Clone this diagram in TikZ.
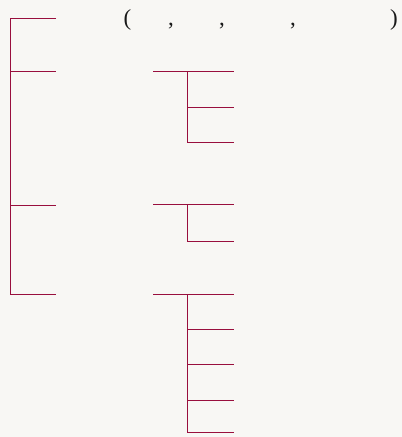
\documentclass[tikz,border=0pt]{standalone}
\usepackage{fontspec}
\setmainfont{Liberation Serif}
\begin{document}
\begin{tikzpicture}[x=1pt,y=-1pt,
  branch/.style={draw=linecol, line width=1pt},
  punct/.style={inner sep=0pt, anchor=base, font=\fontsize{23}{25}\selectfont, text=black!90}]
\definecolor{linecol}{HTML}{990F3D}
\definecolor{paper}{HTML}{F8F7F4}
\fill[paper] (0,0) rectangle (402,437);
\useasboundingbox (0,0) rectangle (402,437);
% text row
\node[punct] (p1) at (127.5,25.5) {(};
\node[punct] (c1) at (171,25.5) {,};
\node[punct] (c2) at (222,25.5) {,};
\node[punct] (c3) at (293,25.5) {,};
\node[punct] (p2) at (394,25.5) {)};
% left bracket
\coordinate (L0) at (10,18.5);
\coordinate (L1) at (10,71.5);
\coordinate (L2) at (10,205);
\coordinate (L3) at (10,294);
\coordinate (R0) at (56,18.5);
\coordinate (R1) at (56,71.5);
\coordinate (R2) at (56,205);
\coordinate (R3) at (56,294);
\draw[branch] (R0) -- (L0) -- (L3) -- (R3);
\draw[branch] (L1) -- (R1);
\draw[branch] (L2) -- (R2);
% group A
\coordinate (A0) at (153,71.5);
\coordinate (A1) at (234,71.5);
\coordinate (Av) at (187.5,71.5);
\coordinate (Ab) at (187.5,107);
\coordinate (Ac) at (187.5,142.5);
\coordinate (Ab2) at (234,107);
\coordinate (Ac2) at (234,142.5);
\draw[branch] (A0) -- (A1);
\draw[branch] (Av) -- (Ac) -- (Ac2);
\draw[branch] (Ab) -- (Ab2);
% group B
\coordinate (B0) at (153,204.5);
\coordinate (B1) at (234,204.5);
\coordinate (Bv) at (187.5,204.5);
\coordinate (Bb) at (187.5,241);
\coordinate (Bb2) at (234,241);
\draw[branch] (B0) -- (B1);
\draw[branch] (Bv) -- (Bb) -- (Bb2);
% group C
\coordinate (C0) at (153,294);
\coordinate (C1) at (234,294);
\coordinate (Cv) at (187.5,294);
\coordinate (Cb) at (187.5,329.5);
\coordinate (Cc) at (187.5,364);
\coordinate (Cd) at (187.5,400);
\coordinate (Ce) at (187.5,432.5);
\coordinate (Cb2) at (234,329.5);
\coordinate (Cc2) at (234,364);
\coordinate (Cd2) at (234,400);
\coordinate (Ce2) at (234,432.5);
\draw[branch] (C0) -- (C1);
\draw[branch] (Cv) -- (Ce) -- (Ce2);
\draw[branch] (Cb) -- (Cb2);
\draw[branch] (Cc) -- (Cc2);
\draw[branch] (Cd) -- (Cd2);
\end{tikzpicture}
\end{document}
